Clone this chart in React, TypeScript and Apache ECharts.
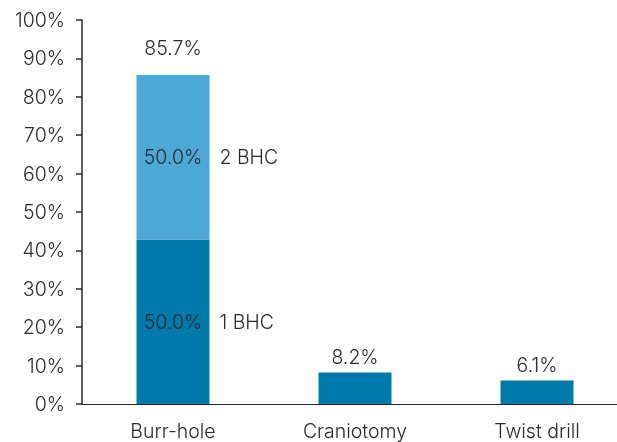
import React, { useEffect, useRef } from "react";
import * as echarts from "echarts";

const categories = ["Burr-hole", "Craniotomy", "Twist drill"];
const lowerValues = [42.85, 8.2, 6.1];
const upperValues: (number | string)[] = [42.85, "-", "-"];
const totalLabels = ["85.7%", "8.2%", "6.1%"];
const segmentLabels = ["50.0%", "50.0%"];
const segmentNames = ["1 BHC", "2 BHC"];
const yTicks = { min: 0, max: 100, interval: 10 };

const FONT = "Inter, sans-serif";
const FS = 19.5;
const FW = 300;
const TXT = "#2a2a2a";
const DARK = "#007aab";
const LIGHT = "#4ca8d6";

export default function App() {
  const ref = useRef<HTMLDivElement>(null);
  useEffect(() => {
    if (!ref.current) return;
    const chart = echarts.init(ref.current, undefined, { renderer: "svg" });
    const segRich = {
      v: { width: 73, align: "center", fontSize: FS, color: TXT, fontFamily: FONT, fontWeight: FW },
      n: { padding: [0, 0, 0, 10], fontSize: FS, color: TXT, fontFamily: FONT, fontWeight: FW },
    };
    const segLabel = (i: number) => ({
      show: true,
      position: ["0%", "50%"],
      align: "left",
      verticalAlign: "middle",
      formatter: `{v|${segmentLabels[i]}}{n|${segmentNames[i]}}`,
      rich: segRich,
    });
    const topLabel = (text: string, distance: number) => ({
      show: true,
      position: "top",
      distance,
      formatter: text,
      fontSize: FS,
      color: TXT,
      fontFamily: FONT,
      fontWeight: FW,
    });
    chart.setOption({
      animation: false,
      grid: {
        left: 82,
        top: 20,
        bottom: 38,
        width: 546,
        containLabel: false,
        outerBoundsMode: "none",
      },
      xAxis: {
        type: "category",
        data: categories,
        axisLine: { lineStyle: { color: TXT, width: 1 } },
        axisTick: { show: false },
        axisLabel: { fontSize: FS, color: TXT, fontFamily: FONT, fontWeight: FW, margin: 17 },
      },
      yAxis: {
        type: "value",
        min: yTicks.min,
        max: yTicks.max,
        interval: yTicks.interval,
        axisLine: { show: true, lineStyle: { color: TXT, width: 1.5 } },
        axisTick: { show: true, length: 6, lineStyle: { color: TXT, width: 1.5 } },
        splitLine: { show: false },
        axisLabel: {
          formatter: "{value}%",
          fontSize: FS,
          color: TXT,
          fontFamily: FONT,
          fontWeight: FW,
          margin: 17,
        },
      },
      series: [
        {
          type: "bar",
          stack: "s",
          barWidth: 73,
          itemStyle: { color: DARK },
          data: lowerValues.map((v, i) => ({
            value: v,
            label: i === 0 ? segLabel(0) : topLabel(totalLabels[i], 6),
          })),
        },
        {
          type: "bar",
          stack: "s",
          barWidth: 73,
          itemStyle: { color: LIGHT },
          data: upperValues.map((v, i) => ({
            value: v,
            label: i === 0 ? segLabel(1) : { show: false },
          })),
        },
        {
          type: "bar",
          stack: "s",
          barWidth: 73,
          itemStyle: { color: "transparent" },
          data: upperValues.map((v, i) => ({
            value: i === 0 ? 0 : "-",
            label: i === 0 ? topLabel(totalLabels[0], 17) : { show: false },
          })),
        },
      ],
    });
    return () => chart.dispose();
  }, []);
  return (
    <div
      ref={ref}
      style={{ position: "fixed", left: 0, top: 0, width: 617, height: 442 }}
    />
  );
}
